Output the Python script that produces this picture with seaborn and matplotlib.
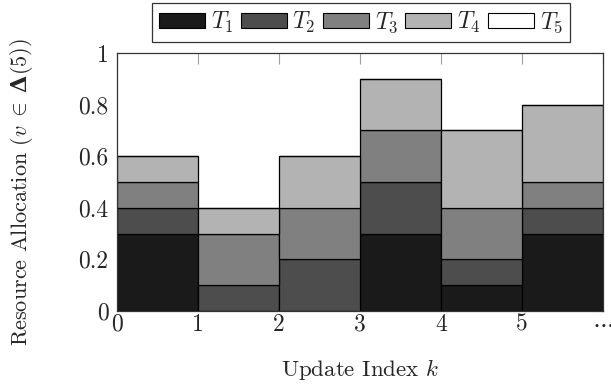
import numpy as np
import pandas as pd
import matplotlib
matplotlib.use("Agg")
import matplotlib.pyplot as plt
import seaborn as sns
from matplotlib.patches import Patch

# data: share of each task per update step
steps = [0, 1, 2, 3, 4, 5]
tasks = ["T1", "T2", "T3", "T4", "T5"]
t1 = [0.3, 0.0, 0.0, 0.3, 0.1, 0.3]
t2 = [0.1, 0.1, 0.2, 0.2, 0.1, 0.1]
t3 = [0.1, 0.2, 0.2, 0.2, 0.2, 0.1]
t4 = [0.1, 0.1, 0.2, 0.2, 0.3, 0.3]
t5 = [0.0, 0.0, 0.0, 0.0, 0.0, 0.0]
colors = ["#1a1a1a", "#4d4d4d", "#808080", "#b3b3b3", "#ffffff"]
x_ticks = [0, 1, 2, 3, 4, 5, 6]
x_labels = ["0", "1", "2", "3", "4", "5", r"$\cdots$"]
y_ticks = [0, 0.2, 0.4, 0.6, 0.8, 1]
y_labels = ["0", "0.2", "0.4", "0.6", "0.8", "1"]

sns.set_style("white")
plt.rcParams["font.family"] = ["cmr10", "DejaVu Serif"]
# custom math fonts so that the bold Delta really is bold
plt.rcParams["mathtext.fontset"] = "custom"
plt.rcParams["mathtext.rm"] = "cmr10"
plt.rcParams["mathtext.it"] = "cmmi10"
plt.rcParams["mathtext.bf"] = "DejaVu Serif:bold"
plt.rcParams["mathtext.fallback"] = "cm"
plt.rcParams["axes.formatter.use_mathtext"] = True

rows = []
for name, vals in zip(tasks, [t1, t2, t3, t4, t5]):
    for k, v in zip(steps, vals):
        rows.append({"step": k, "task": name, "share": v})
df = pd.DataFrame(rows)

fig = plt.figure(figsize=(6.11, 3.92), dpi=100)
ax = fig.add_axes([117 / 611, 1 - 311 / 392, (603 - 117) / 611, (311 - 53) / 392])

sns.histplot(data=df, x="step", weights="share", hue="task",
             hue_order=tasks[::-1], palette=dict(zip(tasks, colors)),
             binwidth=1, binrange=(0, 6), multiple="stack", element="bars",
             alpha=1, edgecolor="black", linewidth=0.9, legend=False, ax=ax)

ax.set_xlim(0, 6)
ax.set_ylim(0, 1)
ax.set_xticks(x_ticks)
ax.set_xticklabels(x_labels)
ax.set_yticks(y_ticks)
ax.set_yticklabels(y_labels)
ax.tick_params(direction="in", length=8, width=0.8, color="#a0a0a0",
               top=True, right=True, labelsize=17)
ax.tick_params(axis="x", pad=2)
ax.tick_params(axis="y", pad=6)
for s in ax.spines.values():
    s.set_visible(True)
    s.set_color("#333333")
    s.set_linewidth(0.9)

ax.set_xlabel("Update Index $k$", fontsize=16.5, labelpad=15)
ax.set_ylabel(r"Resource Allocation ($v \;\in\; \mathbf{\Delta}(5)$)", fontsize=16)
ax.yaxis.set_label_coords(-0.168, 0.46)

handles = [Patch(facecolor=c, edgecolor="black", linewidth=0.8) for c in colors]
labels = [f"$T_{i}$" for i in range(1, 6)]
leg = fig.legend(handles, labels, ncol=5, loc="upper center",
                 bbox_to_anchor=(361 / 611, 1 - 3 / 392), fontsize=17, frameon=True,
                 fancybox=False, edgecolor="black", handlelength=1.95,
                 handleheight=0.6, handletextpad=0.25, columnspacing=0.3,
                 borderpad=0.3, borderaxespad=0)
leg.get_frame().set_linewidth(0.9)

fig.savefig("out.png", dpi=100)
